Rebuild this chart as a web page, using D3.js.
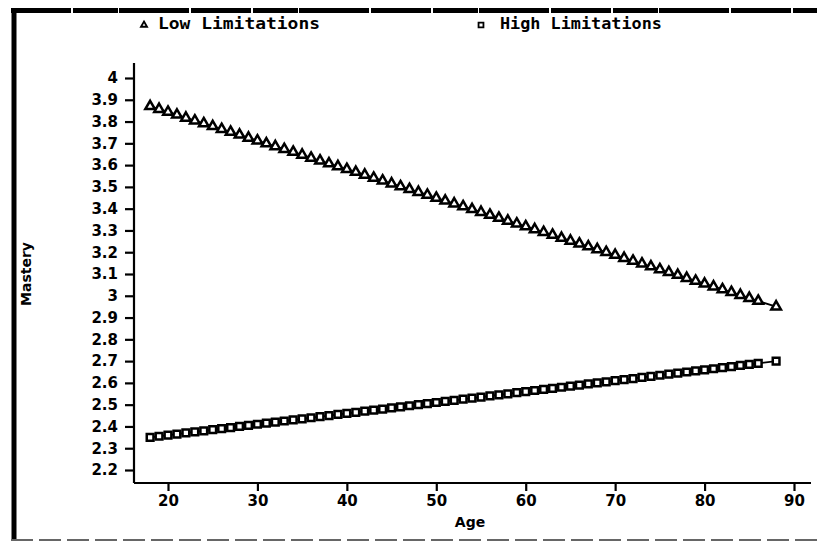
<!DOCTYPE html>
<html><head><meta charset="utf-8">
<script src="https://cdn.jsdelivr.net/npm/d3@7"></script>
<style>body{margin:0;background:#fff}svg{display:block}</style>
</head><body>
<svg id="c" width="817" height="544"></svg>
<script>
const lowAges = [18,19,20,21,22,23,24,25,26,27,28,29,30,31,32,33,34,35,36,37,38,39,40,41,42,43,44,45,46,47,48,49,50,51,52,53,54,55,56,57,58,59,60,61,62,63,64,65,66,67,68,69,70,71,72,73,74,75,76,77,78,79,80,81,82,83,84,85,86,88];
const lowValues = [3.870,3.857,3.844,3.831,3.817,3.804,3.791,3.778,3.765,3.752,3.739,3.725,3.712,3.699,3.686,3.673,3.660,3.647,3.633,3.620,3.607,3.594,3.581,3.568,3.555,3.541,3.528,3.515,3.502,3.489,3.476,3.463,3.449,3.436,3.423,3.410,3.397,3.384,3.371,3.357,3.344,3.331,3.318,3.305,3.292,3.279,3.265,3.252,3.239,3.226,3.213,3.200,3.187,3.173,3.160,3.147,3.134,3.121,3.108,3.095,3.081,3.068,3.055,3.042,3.029,3.016,3.003,2.989,2.976,2.950];
const highAges = lowAges;
const highValues = [2.350,2.355,2.360,2.365,2.370,2.375,2.380,2.385,2.390,2.395,2.400,2.405,2.410,2.415,2.420,2.425,2.430,2.435,2.440,2.445,2.450,2.455,2.460,2.465,2.470,2.475,2.480,2.485,2.490,2.495,2.500,2.505,2.510,2.515,2.520,2.525,2.530,2.535,2.540,2.545,2.550,2.555,2.560,2.565,2.570,2.575,2.580,2.585,2.590,2.595,2.600,2.605,2.610,2.615,2.620,2.625,2.630,2.635,2.640,2.645,2.650,2.655,2.660,2.665,2.670,2.675,2.680,2.685,2.690,2.700];
const xTicks = [20,30,40,50,60,70,80,90];
const yTicks = [2.2,2.3,2.4,2.5,2.6,2.7,2.8,2.9,3,3.1,3.2,3.3,3.4,3.5,3.6,3.7,3.8,3.9,4];
const seriesNames = ["Low Limitations","High Limitations"];

const svg = d3.select("#c");
const x = d3.scaleLinear().domain([20,90]).range([168,794]);
const y = d3.scaleLinear().domain([2.2,4]).range([470,78]);
const axX0 = 134, axY0 = 483;
const tickFont = "'DejaVu Sans',Verdana,sans-serif";

// frame borders
svg.append("line").attr("x1",14).attr("x2",14).attr("y1",8).attr("y2",541).attr("stroke","#000").attr("stroke-width",5);
svg.append("line").attr("x1",11).attr("x2",817).attr("y1",10.5).attr("y2",10.5).attr("stroke","#000").attr("stroke-width",5).attr("stroke-dasharray","60 2 45 1 70 2");
svg.append("line").attr("x1",11).attr("x2",817).attr("y1",540).attr("y2",540).attr("stroke","#666").attr("stroke-width",2).attr("stroke-dasharray","22 6");

// axes
const yAxis = d3.axisLeft(y).tickValues(yTicks).tickFormat(d3.format("")).tickSize(9).tickSizeOuter(0);
const gy = svg.append("g").attr("transform",`translate(${axX0},0)`).call(yAxis);
gy.select(".domain").attr("d",`M0,63V${axY0}`);
const xAxis = d3.axisBottom(x).tickValues(xTicks).tickSize(8).tickSizeOuter(0);
const gx = svg.append("g").attr("transform",`translate(0,${axY0})`).call(xAxis);
gx.select(".domain").attr("d",`M${axX0},0H811`);
svg.selectAll(".domain").attr("stroke","#000").attr("stroke-width",2.2);
svg.selectAll(".tick line").attr("stroke","#000").attr("stroke-width",2.2);
svg.selectAll(".tick text").attr("fill","#000").style("font-family",tickFont).style("font-weight","bold").style("font-size","15px");
gy.selectAll(".tick text").attr("x",-16);
gx.selectAll(".tick text").attr("y",12);

// axis titles
svg.append("text").attr("x",470).attr("y",527).attr("text-anchor","middle").style("font-family",tickFont).style("font-weight","bold").style("font-size","14px").text("Age");
svg.append("text").attr("transform","translate(31,274) rotate(-90)").attr("text-anchor","middle").style("font-family",tickFont).style("font-weight","bold").style("font-size","14px").text("Mastery");

const line = d3.line().x(d=>x(d[0])).y(d=>y(d[1]));
const low = lowAges.map((a,i)=>[a,lowValues[i]]);
const high = highAges.map((a,i)=>[a,highValues[i]]);
svg.append("path").attr("d",line(low)).attr("fill","none").attr("stroke","#000").attr("stroke-width",1.8);
svg.append("path").attr("d",line(high)).attr("fill","none").attr("stroke","#000").attr("stroke-width",1.8);

const tri = d3.symbol().type(d3.symbolTriangle).size(40);
const sq = d3.symbol().type(d3.symbolSquare).size(45);
svg.append("g").selectAll("path").data(low).join("path")
  .attr("d",tri).attr("transform",d=>`translate(${x(d[0])},${y(d[1])})`)
  .attr("fill","#fff").attr("stroke","#000").attr("stroke-width",2.5);
svg.append("g").selectAll("path").data(high).join("path")
  .attr("d",sq).attr("transform",d=>`translate(${x(d[0])},${y(d[1])})`)
  .attr("fill","#fff").attr("stroke","#000").attr("stroke-width",2.5);

// legend
const lg = svg.append("g");
const legFont = "'DejaVu Sans Mono',monospace";
lg.append("path").attr("d",d3.symbol().type(d3.symbolTriangle).size(16)).attr("transform","translate(144,25)").attr("fill","#fff").attr("stroke","#000").attr("stroke-width",1.8);
lg.append("text").attr("x",158).attr("y",29).attr("textLength",162).attr("lengthAdjust","spacingAndGlyphs").style("font-family",legFont).style("font-weight","bold").style("font-size","15px").text(seriesNames[0]);
lg.append("path").attr("d",d3.symbol().type(d3.symbolSquare).size(24)).attr("transform","translate(481,25)").attr("fill","#fff").attr("stroke","#000").attr("stroke-width",1.8);
lg.append("text").attr("x",500).attr("y",29).attr("textLength",162).attr("lengthAdjust","spacingAndGlyphs").style("font-family",legFont).style("font-weight","bold").style("font-size","15px").text(seriesNames[1]);
</script>
</body></html>
